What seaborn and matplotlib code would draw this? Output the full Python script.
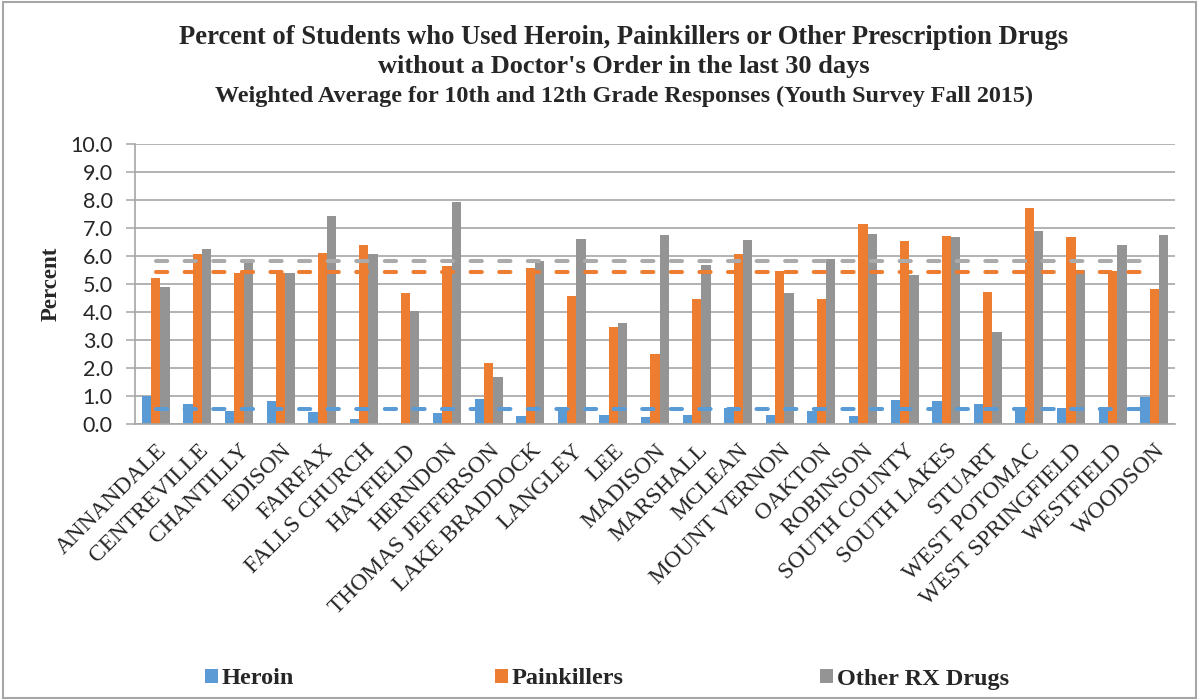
import matplotlib
matplotlib.use("Agg")
import matplotlib.pyplot as plt
import seaborn as sns
import pandas as pd
import numpy as np
from matplotlib.patches import Patch, Rectangle
from matplotlib.ticker import FormatStrFormatter

# ---------------- data ----------------
schools = ["ANNANDALE", "CENTREVILLE", "CHANTILLY", "EDISON", "FAIRFAX",
           "FALLS CHURCH", "HAYFIELD", "HERNDON", "THOMAS JEFFERSON",
           "LAKE BRADDOCK", "LANGLEY", "LEE", "MADISON", "MARSHALL", "MCLEAN",
           "MOUNT VERNON", "OAKTON", "ROBINSON", "SOUTH COUNTY", "SOUTH LAKES",
           "STUART", "WEST POTOMAC", "WEST SPRINGFIELD", "WESTFIELD", "WOODSON"]
heroin = [1.00, 0.70, 0.43, 0.81, 0.40, 0.15, 0.00, 0.38, 0.88, 0.26, 0.50,
          0.31, 0.23, 0.30, 0.56, 0.29, 0.43, 0.26, 0.83, 0.79, 0.69, 0.60,
          0.56, 0.60, 0.95]
painkillers = [5.20, 6.05, 5.37, 5.39, 6.08, 6.38, 4.66, 5.63, 2.15, 5.56,
               4.57, 3.44, 2.49, 4.45, 6.06, 5.44, 4.44, 7.12, 6.51, 6.70,
               4.68, 7.70, 6.66, 5.45, 4.82]
other_rx = [4.89, 6.24, 5.73, 5.37, 7.42, 6.05, 4.03, 7.91, 1.65, 5.82,
            6.60, 3.59, 6.73, 5.66, 6.55, 4.65, 5.89, 6.77, 5.29, 6.66,
            3.27, 6.87, 5.50, 6.36, 6.72]
avg_heroin = 0.51
avg_painkillers = 5.41
avg_other_rx = 5.81

series_names = ["Heroin", "Painkillers", "Other RX Drugs"]
yticks = [0.0, 1.0, 2.0, 3.0, 4.0, 5.0, 6.0, 7.0, 8.0, 9.0, 10.0]
title_lines = ["Percent of Students who Used Heroin, Painkillers or Other Prescription Drugs",
               "without a Doctor's Order in the last 30 days",
               "Weighted Average for 10th and 12th Grade Responses (Youth Survey Fall 2015)"]

# ---------------- styling ----------------
bar_colors = ["#5B9BD5", "#ED7D31", "#949494"]
line_colors = ["#5B9BD5", "#ED7D31", "#ABABAB"]
serif = ["Liberation Serif", "DejaVu Serif"]
sans = ["Lato", "DejaVu Sans"]
legend_x_px = [205, 495, 820]

df = pd.DataFrame({
    "School": schools * 3,
    "Series": [series_names[0]] * len(schools) + [series_names[1]] * len(schools)
              + [series_names[2]] * len(schools),
    "Percent": heroin + painkillers + other_rx,
})

sns.set_theme(style="white")
plt.rcParams["font.family"] = sans

fig = plt.figure(figsize=(12, 7), dpi=100)
ax = fig.add_axes([135 / 1200, 1 - 423.5 / 700, 1040 / 1200, 280 / 700])

sns.barplot(data=df, x="School", y="Percent", hue="Series", palette=bar_colors,
            width=0.67, saturation=1, ax=ax, legend=False, errorbar=None,
            edgecolor="none", zorder=2)

pos = np.arange(len(schools))
for avg, col in zip([avg_heroin, avg_painkillers, avg_other_rx], line_colors):
    ax.plot(pos, [avg] * len(schools), color=col, lw=2.9, linestyle=(0, (2.8, 4.3)),
            dash_capstyle="round", zorder=3)

ax.set_xlim(-0.5, len(schools) - 0.5)
ax.set_ylim(0, 10)
ax.set_yticks(yticks)
ax.yaxis.set_major_formatter(FormatStrFormatter("%.1f"))
ax.grid(axis="y", color="#A6A6A6", lw=1.2, zorder=0)
ax.set_axisbelow(True)
for s in ["top", "right"]:
    ax.spines[s].set_visible(False)
for s in ["left", "bottom"]:
    ax.spines[s].set_color("#A6A6A6")
    ax.spines[s].set_linewidth(1.2)
ax.tick_params(axis="y", which="major", direction="out", length=6.5, width=1.1,
               color="#A6A6A6", labelsize=15.5, pad=9.5, left=True)
ax.tick_params(axis="x", length=0, pad=12)
for lbl in ax.get_yticklabels():
    lbl.set_family(sans)
ax.set_xticks(pos)
ax.set_xticklabels(schools, rotation=45, ha="right", rotation_mode="anchor",
                   fontsize=16.8, family=serif, va="top")
ax.set_xlabel("")
ax.set_ylabel("Percent", fontsize=16.5, fontweight="bold", family=serif, labelpad=6)

# title
fig.text(0.52, 1 - 37 / 700, title_lines[0], ha="center", va="center",
         fontsize=19.2, fontweight="bold", family=serif)
fig.text(0.52, 1 - 66 / 700, title_lines[1], ha="center", va="center",
         fontsize=19.0, fontweight="bold", family=serif)
fig.text(0.52, 1 - 96 / 700, title_lines[2], ha="center", va="center",
         fontsize=17.4, fontweight="bold", family=serif)

# legend (one entry per legend box, spaced like the reference)
for name, col, xpx in zip(series_names, bar_colors, legend_x_px):
    fig.legend([Patch(facecolor=col, edgecolor="none")], [name], loc="center left",
               bbox_to_anchor=(xpx / 1200, 1 - 679 / 700), frameon=False,
               prop={"family": serif, "weight": "bold", "size": 17.5},
               handlelength=0.55, handleheight=0.55, handletextpad=0.15,
               borderpad=0, borderaxespad=0)

# outer border
fig.patches.append(Rectangle((3 / 1200, 2 / 700), 1193 / 1200, 696 / 700,
                             transform=fig.transFigure, fill=False,
                             edgecolor="#A6A6A6", lw=1.5))

fig.savefig("out.png", dpi=100)
